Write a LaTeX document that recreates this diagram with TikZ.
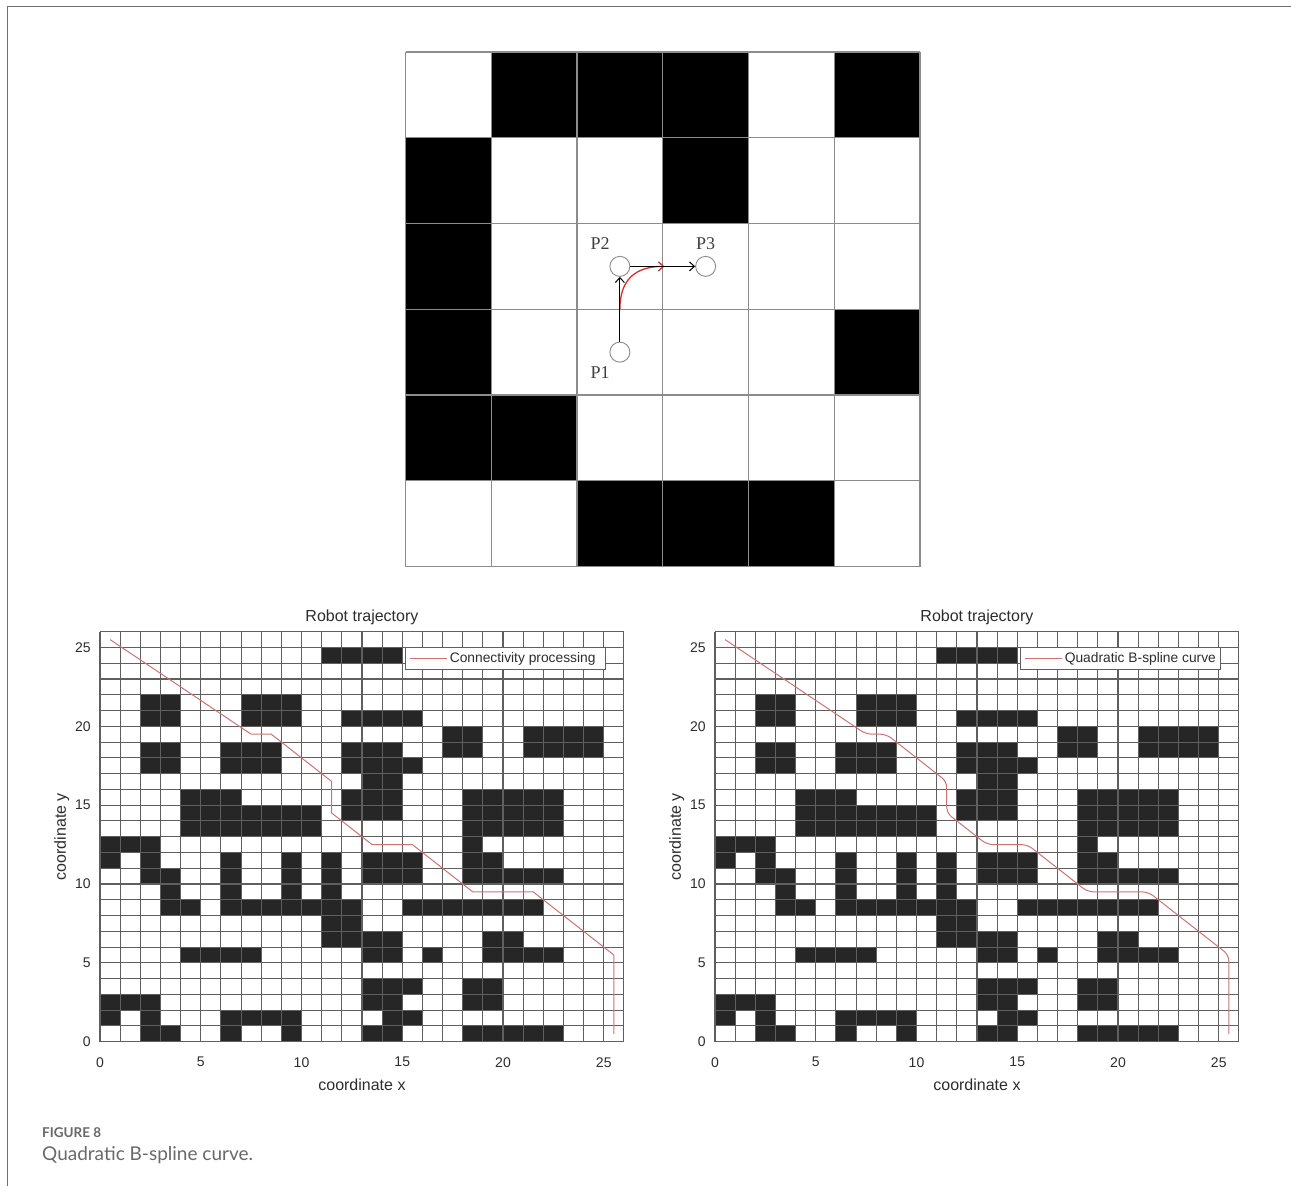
\documentclass[tikz,border=0pt]{standalone}
\usepackage{fontspec}
\setmainfont{Liberation Sans}
\newfontfamily\pserif{Liberation Serif}
\newfontfamily\capfont{Lato}
\usetikzlibrary{arrows.meta}

\definecolor{gridc}{RGB}{95,95,95}
\definecolor{cellc}{RGB}{38,38,38}
\definecolor{pathc}{RGB}{205,115,115}
\definecolor{framec}{RGB}{110,110,110}
\definecolor{capc}{RGB}{105,105,105}
\definecolor{axc}{RGB}{45,45,45}
\definecolor{topgridc}{RGB}{140,140,140}
\definecolor{redarr}{RGB}{215,45,45}

\tikzset{
  gline/.style={gridc, line width=1.1pt},
  tgline/.style={topgridc, line width=1.3pt},
  robpath/.style={pathc, line width=1pt},
  legbox/.style={draw=gridc, fill=white, line width=0.9pt},
  legtext/.style={font=\fontsize{13.8}{15}\selectfont, text=axc, inner sep=1pt},
  ticklab/.style={font=\fontsize{14}{16}\selectfont, text=axc, inner sep=2pt},
  axlab/.style={font=\fontsize{16}{18}\selectfont, text=axc, inner sep=1pt},
  ptcircle/.style={circle, draw=topgridc, fill=white, line width=0.9pt, minimum size=20pt, inner sep=0pt},
  plabel/.style={font=\pserif\fontsize{18}{20}\selectfont, text=black!75, inner sep=0pt},
  blackarr/.style={black, line width=1pt, -{Straight Barb[length=5pt,width=9pt]}},
  redcurve/.style={redarr, line width=1.3pt, -{Straight Barb[length=5pt,width=9pt]}}
}

\def\obst{24/{11,12,13,14},
21/{2,3,7,8,9},
20/{2,3,7,8,9,12,13,14,15},
19/{17,18,21,22,23,24},
18/{2,3,6,7,8,12,13,14,17,18,21,22,23,24},
17/{2,3,6,7,8,12,13,14,15},
16/{13,14},
15/{4,5,6,12,13,14,18,19,20,21,22},
14/{4,5,6,7,8,9,10,12,13,14,18,19,20,21,22},
13/{4,5,6,7,8,9,10,18,19,20,21,22},
12/{0,1,2,18},
11/{0,2,6,9,11,13,14,15,18,19},
10/{2,3,6,9,11,13,14,15,18,19,20,21,22},
9/{3,6,9,11},
8/{3,4,6,7,8,9,10,11,12,15,16,17,18,19,20,21},
7/{11,12},
6/{11,12,13,14,19,20},
5/{4,5,6,7,13,14,16,19,20,21,22},
3/{13,14,15,18,19},
2/{0,1,2,13,14,18,19},
1/{0,2,6,7,8,9,14,15},
0/{2,3,6,9,13,14,18,19,20,21,22}}

% #1 x origin, #2 prefix, #3 legend text, #4 path options
\newcommand{\robplot}[4]{%
\begin{scope}[shift={(#1,1041.7)}, x=20.15pt, y=15.77pt]
  \foreach \r/\cs in \obst {\foreach \c in \cs {\fill[cellc] (\c,\r) rectangle ++(1,1);}}
  \foreach \i in {0,...,26} {\draw[gline] (\i,0) -- (\i,26); \draw[gline] (0,\i) -- (26,\i);}
  \draw[robpath, #4] (0.5,25.5) -- (7.5,19.5) -- (8.5,19.5) -- (11.5,16.5) -- (11.5,14.5)
     -- (13.5,12.5) -- (15.5,12.5) -- (18.5,9.5) -- (21.5,9.5) -- (25.5,5.5) -- (25.5,0.5);
  \draw[legbox] (15.15,23.6) rectangle (25.1,25.0);
  \coordinate (#2la) at (15.4,24.3);
  \coordinate (#2lb) at (17.2,24.3);
  \draw[robpath] (#2la) -- (#2lb);
  \node[legtext, anchor=west] (#2leg) at (17.3,24.3) {#3};
  \foreach \v in {0,5,...,25} {
    \node[ticklab] (#2x\v) at (\v,-1.3) {\v};
    \node[ticklab, anchor=east] (#2y\v) at (-0.35,\v) {\v};
  }
  \node[axlab] (#2xl) at (13,-2.75) {coordinate x};
  \node[axlab, rotate=90] (#2yl) at (-1.9,13) {coordinate y};
  \node[axlab] (#2tt) at (13,26.9) {Robot trajectory};
\end{scope}}

\begin{document}
\begin{tikzpicture}[x=1pt, y=-1pt]
\useasboundingbox (0,0) rectangle (1291,1186);
\fill[white] (0,0) rectangle (1291,1186);
% frame
\draw[framec, line width=1.6pt] (7.5,1186) -- (7.5,6.5) -- (1291,6.5);

% top grid diagram
\begin{scope}[shift={(405.5,52)}, x=85.75pt, y=-85.75pt]
  \foreach \c/\r in {1/0,2/0,3/0,5/0,0/1,3/1,0/2,0/3,5/3,0/4,1/4,2/5,3/5,4/5}
    {\fill[black] (\c,\r) rectangle ++(1,1);}
  \foreach \i in {0,...,6} {\draw[tgline] (\i,0) -- (\i,6); \draw[tgline] (0,\i) -- (6,\i);}
  \coordinate (rs) at (2.5,3.0);
  \coordinate (re) at (3.02,2.5);
  \draw[redcurve] (rs) .. controls (2.5,2.667) and (2.667,2.5) .. (re);
  \node[ptcircle] (P1) at (2.5,3.5) {};
  \node[ptcircle] (P2) at (2.5,2.5) {};
  \node[ptcircle] (P3) at (3.5,2.5) {};
  \draw[blackarr] (P1) -- (P2);
  \draw[blackarr] (P2) -- (P3);
  \node[plabel] (L1) at (2.27,3.74) {P1};
  \node[plabel] (L2) at (2.27,2.23) {P2};
  \node[plabel] (L3) at (3.5,2.23) {P3};
\end{scope}

\robplot{100}{A}{Connectivity processing}{}
\robplot{715}{B}{Quadratic B-spline curve}{rounded corners=6pt}

% caption
\node[anchor=west, font=\capfont\bfseries\fontsize{13.5}{15}\selectfont, text=capc, inner sep=0pt] (fig) at (42,1133) {FIGURE 8};
\node[anchor=west, font=\capfont\fontsize{19}{21}\selectfont, text=capc, inner sep=0pt] (cap) at (42,1155) {Quadratic B-spline curve.};
\end{tikzpicture}
\end{document}
